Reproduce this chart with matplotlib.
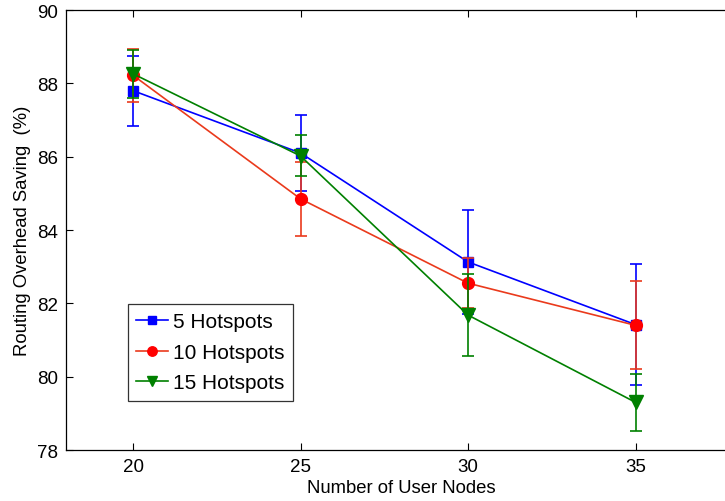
import matplotlib
matplotlib.use("Agg")
import matplotlib.pyplot as plt

plt.rcParams['font.family'] = ['Liberation Sans', 'DejaVu Sans']

nodes = [20, 25, 30, 35]

hot5 = [87.80, 86.10, 83.13, 81.42]
hot5_err = [0.95, 1.04, 1.42, 1.66]
hot10 = [88.22, 84.85, 82.55, 81.40]
hot10_err = [0.72, 1.00, 0.68, 1.20]
hot15 = [88.26, 86.02, 81.68, 79.30]
hot15_err = [0.65, 0.56, 1.12, 0.77]

labels = ['5 Hotspots', '10 Hotspots', '15 Hotspots']

fig = plt.figure(figsize=(7.25, 5.02), dpi=100)
# axes runs past the right edge, as in the cropped original
ax = fig.add_axes([66 / 725, 1 - 451 / 502, 670 / 725, 440 / 502])

series = [
    (hot5, hot5_err, 's', '#0000ff', '#0000ff', 7),
    (hot10, hot10_err, 'o', '#ea3a1c', '#ff0000', 8.5),
    (hot15, hot15_err, 'v', '#008000', '#008000', 9.5),
]
handles = []
for (vals, err, mk, lc, mc, ms), lab in zip(series, labels):
    ax.errorbar(nodes, vals, yerr=err, fmt='none', ecolor=lc,
                elinewidth=1.2, capsize=4.3, capthick=1.2)
    h, = ax.plot(nodes, vals, color=lc, marker=mk, markersize=ms,
                 markerfacecolor=mc, markeredgecolor=mc, linewidth=1.2,
                 label=lab)
    handles.append(h)

ax.set_xlim(18, 38)
ax.set_ylim(78, 90)
ax.set_xticks(nodes)
ax.set_yticks(range(78, 91, 2))
ax.tick_params(direction='in', labelsize=13.5, top=True, right=True,
               length=5, width=0.8, pad=6)
for s in ax.spines.values():
    s.set_linewidth(0.9)

ax.set_xlabel('Number of User Nodes', fontsize=13.3, labelpad=3)
ax.set_ylabel('Routing Overhead Saving  (%)', fontsize=13.3, labelpad=4)

leg = ax.legend(handles=handles, loc='upper left',
                bbox_to_anchor=(62 / 670, 1 - 294 / 440),
                fontsize=15, frameon=True, fancybox=False, edgecolor='black',
                handlelength=1.5, handletextpad=0.25, borderpad=0.4,
                labelspacing=0.55, borderaxespad=0, markerscale=0.8)
leg.get_frame().set_linewidth(0.9)

fig.savefig('out.png', dpi=100)
